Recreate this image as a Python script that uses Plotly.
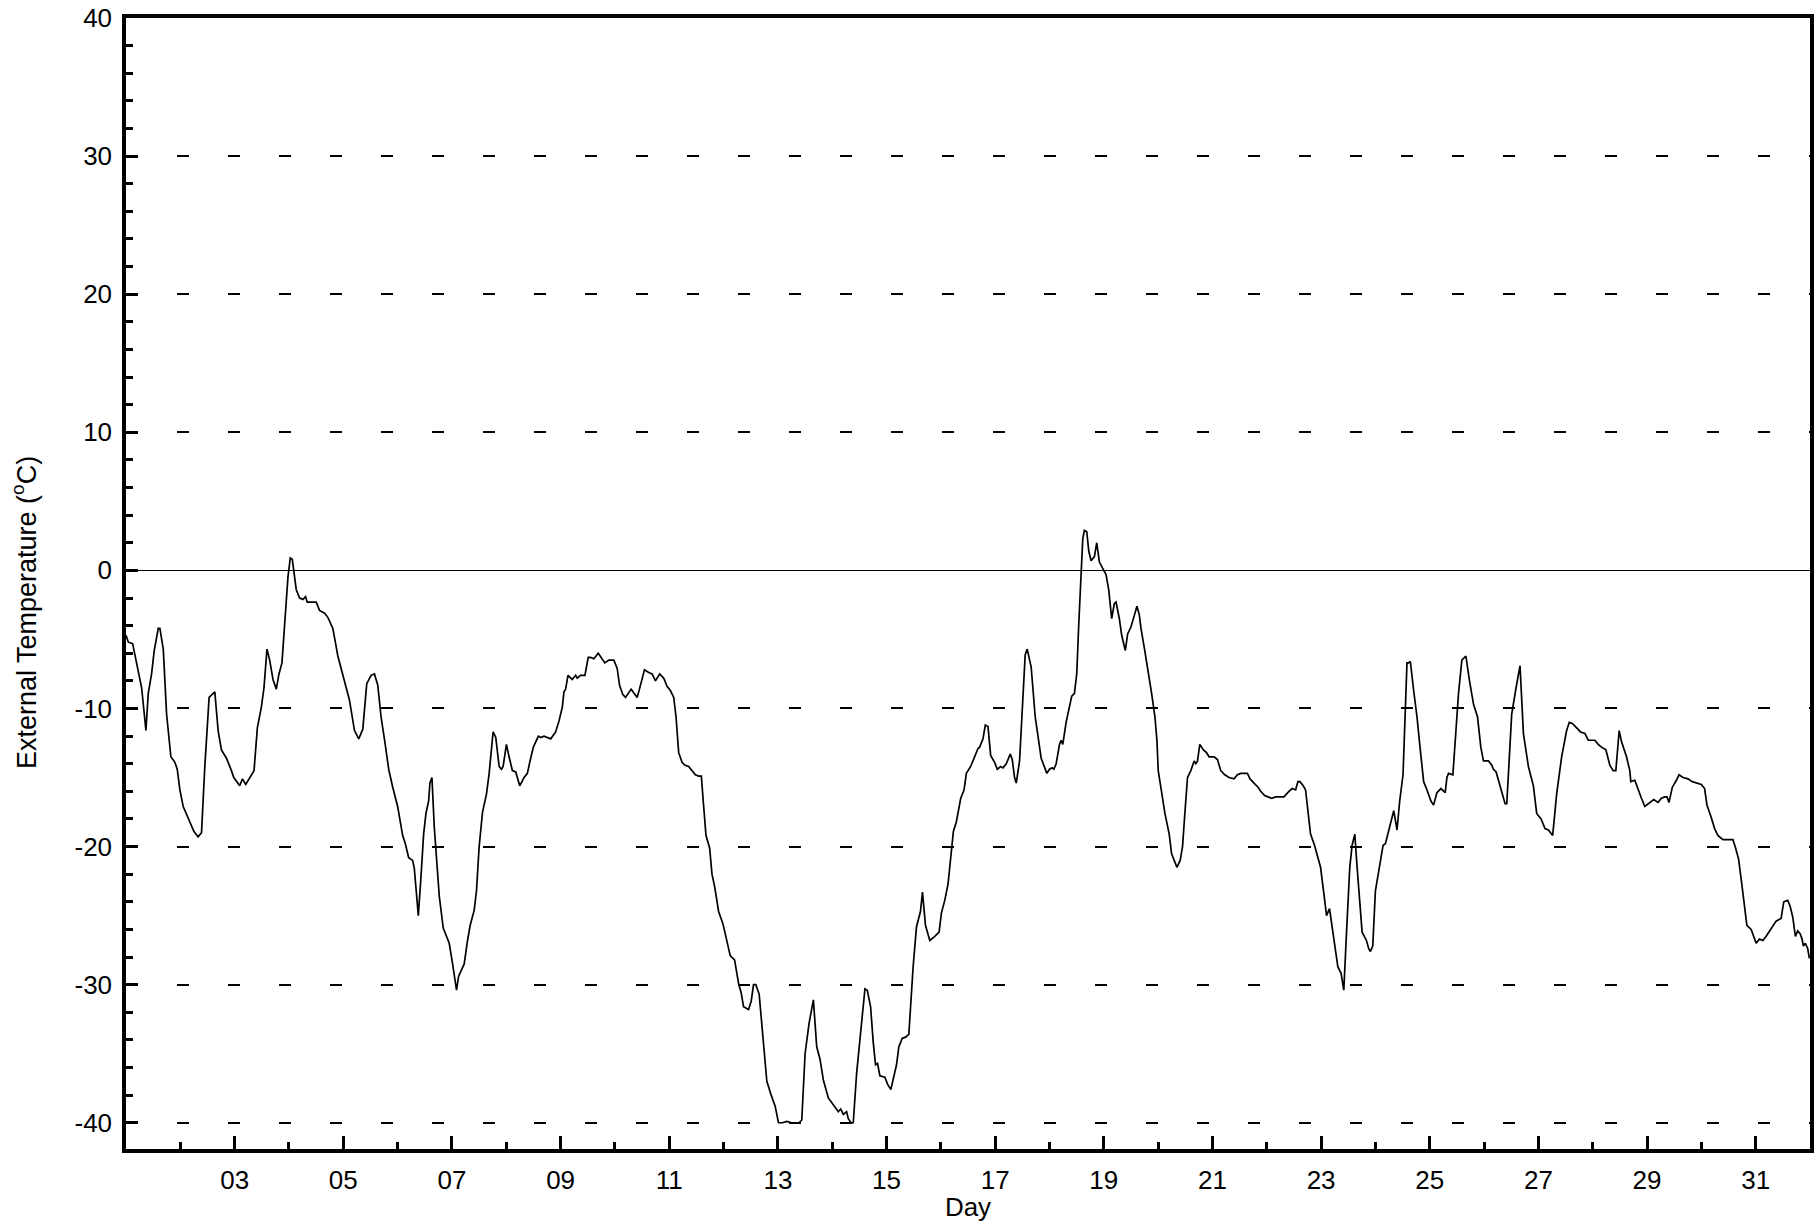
import plotly.graph_objects as go

# Day of month (fractional) and external temperature (°C)
day = [
    1.000, 1.043, 1.122, 1.196, 1.288, 1.367, 1.410, 1.471, 1.520, 1.594,
    1.624, 1.686, 1.747, 1.826, 1.900, 1.943, 1.992, 2.053, 2.114, 2.194,
    2.249, 2.328, 2.390, 2.451, 2.530, 2.635, 2.696, 2.757, 2.849, 2.941,
    2.984, 3.094, 3.143, 3.204, 3.277, 3.357, 3.418, 3.492, 3.540, 3.595,
    3.645, 3.706, 3.767, 3.816, 3.871, 3.920, 3.981, 4.024, 4.061, 4.134,
    4.196, 4.257, 4.306, 4.336, 4.502, 4.563, 4.655, 4.716, 4.808, 4.900,
    4.991, 5.053, 5.114, 5.206, 5.285, 5.359, 5.432, 5.512, 5.573, 5.634,
    5.695, 5.757, 5.836, 5.910, 6.001,
    6.093, 6.142, 6.204, 6.277, 6.308, 6.381, 6.430, 6.479, 6.522, 6.571,
    6.595, 6.632, 6.675, 6.724, 6.767, 6.840, 6.950, 7.012, 7.085, 7.122,
    7.226, 7.287, 7.336, 7.410, 7.452, 7.501, 7.563, 7.636, 7.685, 7.758,
    7.807, 7.869, 7.912, 7.942, 8.003, 8.052, 8.113, 8.175, 8.248, 8.328,
    8.389, 8.438, 8.499, 8.591, 8.634, 8.695, 8.756, 8.818, 8.909, 8.971,
    9.032, 9.062, 9.093, 9.136, 9.215, 9.277, 9.307, 9.368, 9.448, 9.509,
    9.552, 9.613, 9.693, 9.766, 9.815, 9.889, 9.981, 10.042, 10.085, 10.146,
    10.195, 10.299, 10.366, 10.409, 10.452, 10.544, 10.623, 10.685, 10.746, 10.825,
    10.899, 10.960, 11.021, 11.083, 11.125, 11.174, 11.236, 11.285, 11.358, 11.419,
    11.481, 11.542,
    11.591, 11.634, 11.677, 11.744, 11.787, 11.836, 11.909, 11.989, 12.062, 12.123,
    12.203, 12.276, 12.325, 12.368, 12.460, 12.509, 12.552, 12.595, 12.656, 12.717,
    12.797, 12.877, 12.950, 13.011, 13.085, 13.164, 13.256, 13.391, 13.440, 13.501,
    13.574, 13.654, 13.715, 13.776, 13.837, 13.929, 14.021, 14.113, 14.156, 14.205,
    14.266, 14.296, 14.346, 14.388, 14.450, 14.529, 14.560, 14.603, 14.646, 14.707,
    14.756, 14.798, 14.835, 14.878, 14.970, 15.019, 15.080, 15.141, 15.184, 15.227,
    15.288, 15.350, 15.411, 15.490, 15.552, 15.625, 15.662, 15.717, 15.797, 15.888,
    15.968, 16.011, 16.072, 16.133, 16.182, 16.231, 16.286, 16.366, 16.427, 16.470,
    16.549, 16.611, 16.684,
    16.715, 16.776, 16.819, 16.868, 16.917, 16.990, 17.039, 17.100, 17.143, 17.204,
    17.278, 17.315, 17.357, 17.388, 17.449, 17.492, 17.553, 17.590, 17.663, 17.737,
    17.786, 17.847, 17.951, 18.000, 18.049, 18.080, 18.123, 18.184, 18.214, 18.245,
    18.306, 18.355, 18.410, 18.459, 18.502, 18.539, 18.582, 18.613, 18.643, 18.686,
    18.723, 18.766, 18.827, 18.870, 18.919, 18.980, 19.041, 19.090, 19.145, 19.194,
    19.225, 19.286, 19.329, 19.396, 19.439, 19.500, 19.562, 19.610, 19.653, 19.684,
    19.745, 19.806, 19.880, 19.941, 19.978, 20.002, 20.063, 20.125, 20.204, 20.247,
    20.296, 20.345, 20.406, 20.449, 20.492, 20.541, 20.602, 20.663, 20.694, 20.725,
    20.767, 20.834, 20.890, 20.939, 21.031, 21.092, 21.153, 21.227, 21.306, 21.398,
    21.459, 21.520, 21.643,
    21.692, 21.765, 21.839, 21.888, 21.961, 22.022, 22.090, 22.163, 22.316, 22.408,
    22.469, 22.531, 22.573, 22.610, 22.671, 22.714, 22.763, 22.806, 22.879, 22.941,
    22.990, 23.051, 23.100, 23.155, 23.222, 23.308, 23.369, 23.418, 23.467, 23.528,
    23.571, 23.620, 23.663, 23.712, 23.755, 23.835, 23.877, 23.908, 23.951, 24.000,
    24.061, 24.141, 24.184, 24.245, 24.288, 24.337, 24.398, 24.447, 24.508, 24.551,
    24.581, 24.612, 24.643, 24.704, 24.765, 24.826, 24.888, 24.949, 25.022, 25.071,
    25.132, 25.206, 25.285, 25.316, 25.346, 25.426, 25.469, 25.530, 25.591, 25.665,
    25.732, 25.806, 25.879, 25.940, 25.989, 26.081, 26.142, 26.173, 26.222, 26.265,
    26.344, 26.387, 26.418, 26.467, 26.509, 26.589, 26.662, 26.724, 26.785,
    26.816, 26.908, 26.969, 27.049, 27.122, 27.183, 27.263, 27.336, 27.428, 27.520,
    27.569, 27.630, 27.703, 27.777, 27.856, 27.918, 28.040, 28.101, 28.162, 28.242,
    28.315, 28.377, 28.426, 28.487, 28.530, 28.622, 28.683, 28.701, 28.775, 28.836,
    28.897, 28.959, 29.020, 29.081, 29.124, 29.203, 29.264, 29.326, 29.368, 29.405,
    29.466, 29.540, 29.589, 29.662, 29.754, 29.833, 29.907, 29.999, 30.060, 30.103,
    30.182, 30.244, 30.305, 30.397, 30.489, 30.581, 30.630, 30.685, 30.734, 30.795,
    30.838, 30.917, 30.960, 31.009, 31.070, 31.132, 31.193, 31.254, 31.315, 31.376,
    31.468, 31.517, 31.590, 31.633, 31.682, 31.731, 31.774, 31.817, 31.854, 31.878,
    31.915, 31.958, 31.989,
]

temperature = [
    -4.7, -5.2, -5.3, -6.8, -8.5, -11.6, -8.9, -7.5, -5.8, -4.2,
    -4.2, -5.7, -10.4, -13.5, -13.9, -14.4, -15.9, -17.1, -17.7, -18.5,
    -18.9, -19.3, -19.0, -14.2, -9.2, -8.8, -11.6, -13.0, -13.6, -14.5,
    -15.0, -15.6, -15.1, -15.5, -15.0, -14.5, -11.4, -9.9, -8.5, -5.7,
    -6.5, -7.9, -8.6, -7.5, -6.7, -3.9, -0.5, 0.9, 0.8, -1.4,
    -2.0, -2.1, -1.9, -2.3, -2.3, -2.9, -3.1, -3.4, -4.2, -6.2,
    -7.6, -8.6, -9.4, -11.6, -12.2, -11.5, -8.2, -7.6, -7.5, -8.3,
    -10.6, -12.2, -14.4, -15.7, -17.1,
    -19.2, -19.8, -20.8, -21.0, -21.6, -25.0, -22.2, -19.1, -17.6, -16.7,
    -15.4, -15.0, -18.6, -21.2, -23.6, -25.9, -27.0, -28.5, -30.4, -29.4,
    -28.5, -26.8, -25.7, -24.6, -23.2, -20.0, -17.5, -16.2, -14.7, -11.7,
    -12.1, -14.2, -14.4, -14.2, -12.6, -13.5, -14.5, -14.6, -15.6, -15.0,
    -14.7, -13.8, -12.8, -12.0, -12.1, -12.0, -12.1, -12.2, -11.7, -10.9,
    -9.9, -8.8, -8.6, -7.6, -7.9, -7.6, -7.8, -7.6, -7.6, -6.3,
    -6.3, -6.4, -6.0, -6.4, -6.7, -6.5, -6.5, -7.1, -8.3, -9.0,
    -9.2, -8.6, -9.0, -9.2, -8.6, -7.2, -7.4, -7.5, -8.0, -7.5,
    -7.8, -8.4, -8.7, -9.2, -10.6, -13.2, -13.9, -14.1, -14.2, -14.5,
    -14.8, -14.9,
    -14.9, -17.1, -19.2, -20.1, -22.0, -22.9, -24.7, -25.6, -26.8, -27.9,
    -28.2, -29.9, -30.6, -31.6, -31.8, -31.2, -30.0, -30.0, -30.7, -33.5,
    -37.0, -38.0, -38.8, -40.0, -40.0, -39.9, -40.0, -40.0, -39.8, -35.0,
    -32.8, -31.1, -34.5, -35.4, -36.9, -38.2, -38.7, -39.2, -39.0, -39.4,
    -39.2, -39.7, -40.0, -40.0, -36.4, -33.0, -32.1, -30.3, -30.4, -31.6,
    -34.2, -35.8, -35.7, -36.6, -36.7, -37.2, -37.6, -36.6, -35.8, -34.5,
    -33.9, -33.8, -33.6, -28.7, -25.8, -24.7, -23.3, -25.7, -26.8, -26.5,
    -26.2, -24.8, -23.9, -22.7, -21.0, -18.9, -18.2, -16.5, -15.9, -14.7,
    -14.2, -13.6, -12.9,
    -12.8, -12.2, -11.2, -11.3, -13.4, -13.9, -14.4, -14.2, -14.3, -14.0,
    -13.3, -13.7, -15.0, -15.4, -13.8, -10.6, -6.1, -5.7, -7.0, -10.6,
    -11.8, -13.6, -14.7, -14.4, -14.3, -14.4, -14.0, -12.6, -12.3, -12.6,
    -11.0, -10.2, -9.1, -8.9, -7.5, -3.9, -0.2, 2.3, 2.9, 2.8,
    1.4, 0.7, 1.0, 2.0, 0.6, 0.2, -0.3, -1.4, -3.5, -2.4,
    -2.3, -3.5, -4.7, -5.8, -4.6, -4.1, -3.3, -2.6, -3.2, -4.2,
    -5.6, -7.0, -8.9, -10.6, -12.3, -14.5, -16.2, -17.6, -19.1, -20.5,
    -21.0, -21.5, -21.0, -20.0, -17.6, -15.0, -14.5, -13.8, -14.0, -13.8,
    -12.6, -13.0, -13.2, -13.5, -13.5, -13.7, -14.5, -14.8, -15.0, -15.1,
    -14.8, -14.7, -14.7,
    -15.1, -15.4, -15.7, -16.0, -16.3, -16.4, -16.5, -16.4, -16.4, -16.0,
    -15.8, -15.9, -15.3, -15.3, -15.6, -15.9, -17.4, -19.1, -19.9, -20.8,
    -21.5, -23.4, -25.0, -24.5, -26.5, -28.7, -29.2, -30.4, -26.3, -21.5,
    -19.9, -19.1, -21.5, -23.9, -26.2, -26.8, -27.4, -27.6, -27.2, -23.2,
    -21.8, -19.9, -19.8, -18.8, -18.3, -17.4, -18.8, -16.7, -14.8, -9.9,
    -6.7, -6.7, -6.6, -8.7, -10.6, -13.0, -15.3, -15.9, -16.7, -17.0,
    -16.1, -15.8, -16.1, -15.0, -14.7, -14.8, -12.3, -8.9, -6.5, -6.2,
    -8.0, -9.7, -10.6, -12.8, -13.8, -13.8, -14.1, -14.4, -14.6, -15.2,
    -16.2, -16.9, -16.9, -13.5, -10.4, -8.5, -6.9, -11.8, -13.5,
    -14.2, -15.6, -17.6, -18.0, -18.7, -18.8, -19.2, -16.2, -13.5, -11.6,
    -11.0, -11.1, -11.4, -11.7, -11.8, -12.3, -12.3, -12.6, -12.8, -13.0,
    -14.1, -14.5, -14.5, -11.6, -12.4, -13.5, -14.5, -15.3, -15.2, -15.9,
    -16.5, -17.1, -16.9, -16.7, -16.6, -16.8, -16.5, -16.4, -16.4, -16.8,
    -15.7, -15.2, -14.8, -15.0, -15.1, -15.3, -15.4, -15.5, -15.8, -17.0,
    -17.9, -18.7, -19.2, -19.5, -19.5, -19.5, -20.1, -20.9, -22.4, -24.4,
    -25.7, -26.0, -26.5, -27.0, -26.7, -26.8, -26.5, -26.1, -25.7, -25.4,
    -25.2, -24.0, -23.9, -24.3, -25.1, -26.5, -26.1, -26.3, -26.7, -27.2,
    -27.0, -27.4, -28.1,
]

x_tick_vals = [3, 5, 7, 9, 11, 13, 15, 17, 19, 21, 23, 25, 27, 29, 31]
x_tick_text = ["03", "05", "07", "09", "11", "13", "15", "17", "19", "21",
               "23", "25", "27", "29", "31"]
x_minor_vals = [2, 4, 6, 8, 10, 12, 14, 16, 18, 20, 22, 24, 26, 28, 30]

y_tick_vals = [-40, -30, -20, -10, 0, 10, 20, 30, 40]
y_tick_text = ["-40", "-30", "-20", "-10", "0", "10", "20", "30", "40"]

x_title = "Day"
y_title = "External Temperature (<sup>o</sup>C)"

FONT = "Liberation Sans, Arial, sans-serif"
FS = 26

fig = go.Figure()
fig.add_trace(go.Scatter(
    x=day, y=temperature, mode="lines",
    line=dict(color="black", width=1.7),
    showlegend=False, hoverinfo="skip",
))

fig.update_layout(
    width=1817, height=1222,
    margin=dict(l=126, r=3, t=16, b=73),
    paper_bgcolor="white", plot_bgcolor="white",
    font=dict(family=FONT, size=FS, color="black"),
)

fig.update_xaxes(
    range=[1, 32],
    showline=True, linecolor="black", linewidth=3.5, mirror=True,
    showgrid=False, zeroline=False,
    ticks="inside", ticklen=13, tickwidth=3, tickcolor="black",
    tickmode="array", tickvals=x_tick_vals, ticktext=x_tick_text,
    tickfont=dict(family=FONT, size=FS, color="black"),
    ticklabelstandoff=5,
    minor=dict(tickmode="array", tickvals=x_minor_vals, ticks="inside",
               ticklen=7, tickwidth=3, tickcolor="black", showgrid=False),
    title=dict(text=x_title, font=dict(family=FONT, size=FS, color="black"),
               standoff=0),
)

fig.update_yaxes(
    range=[-41.9, 40],
    showline=True, linecolor="black", linewidth=3.5, mirror=True,
    showgrid=True, gridcolor="black", gridwidth=2, griddash="12px,39px",
    zeroline=True, zerolinecolor="black", zerolinewidth=1.3,
    ticks="inside", ticklen=12, tickwidth=3, tickcolor="black",
    tickmode="array", tickvals=y_tick_vals, ticktext=y_tick_text,
    tickfont=dict(family=FONT, size=FS, color="black"),
    ticklabelstandoff=5,
    minor=dict(dtick=2, ticks="inside", ticklen=7, tickwidth=3,
               tickcolor="black", showgrid=False),
)

# y-axis title, centred on the figure height as in the reference
fig.add_annotation(
    text=y_title, textangle=-90,
    xref="paper", yref="paper", x=-0.0605, y=0.474,
    xanchor="center", yanchor="middle", showarrow=False,
    font=dict(family=FONT, size=27, color="black"),
)

fig.write_html("out.html", config={"displayModeBar": False},
               post_script="document.body.style.margin='0';")
